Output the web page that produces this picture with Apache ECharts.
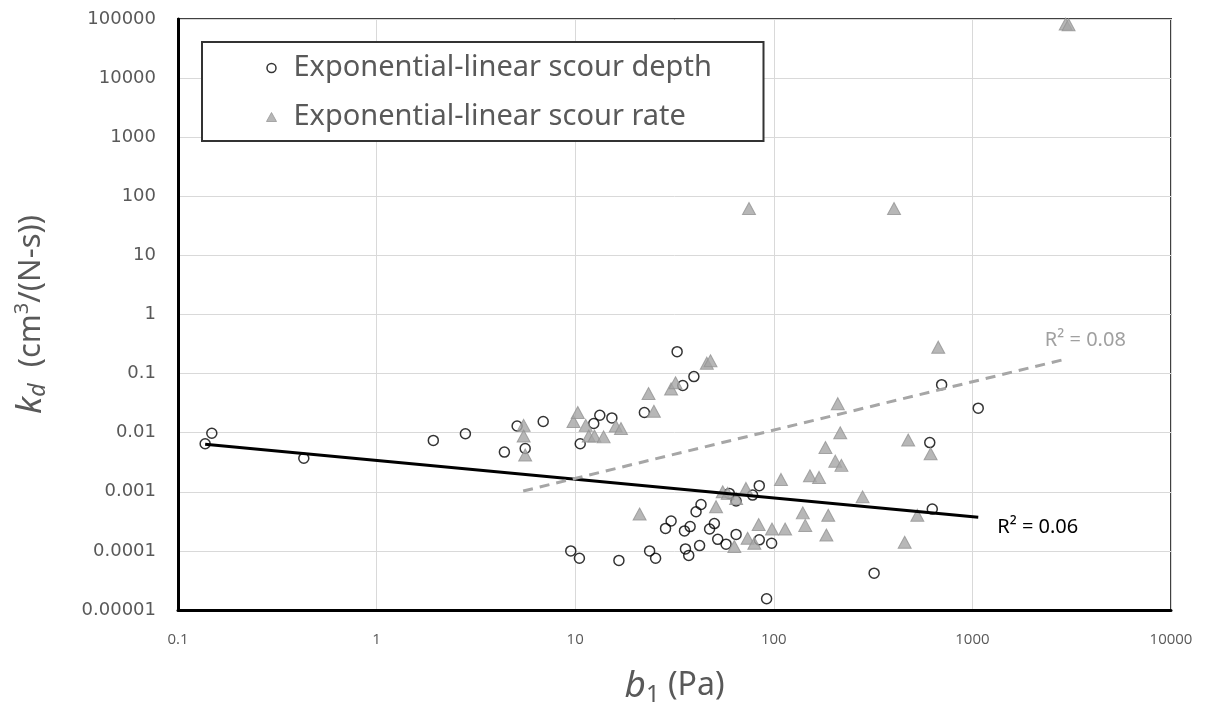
<!DOCTYPE html>
<html>
<head>
<meta charset="utf-8">
<script src="https://cdn.jsdelivr.net/npm/echarts@6/dist/echarts.min.js"></script>
<style>
html,body{margin:0;padding:0;background:#fff;}
#chart{width:1208px;height:712px;}
</style>
</head>
<body>
<div id="chart"></div>
<script>
const seriesNames = ['Exponential-linear scour depth', 'Exponential-linear scour rate'];

const xTickLabels = ['0.1', '1', '10', '100', '1000', '10000'];
const yTickLabels = ['0.00001', '0.0001', '0.001', '0.01', '0.1', '1', '10', '100', '1000', '10000', '100000'];

// [b1 (Pa), kd]
const depthData = [
  [0.137, 0.0065], [0.148, 0.0098], [0.43, 0.0037], [1.93, 0.0074], [2.8, 0.0096],
  [4.4, 0.0047], [5.1, 0.013], [5.6, 0.0054], [6.9, 0.0155], [9.5, 0.0001],
  [10.5, 0.000075], [10.6, 0.0065], [12.4, 0.0143], [13.3, 0.0197], [15.3, 0.0178],
  [16.6, 0.000069], [22.3, 0.022], [23.7, 0.0001], [25.4, 0.000075], [28.5, 0.00024],
  [30.4, 0.00032], [32.6, 0.235], [34.8, 0.063], [35.5, 0.000218], [35.9, 0.000108],
  [37.3, 0.000084], [37.9, 0.000258], [39.6, 0.089], [40.6, 0.00046], [42.3, 0.000123],
  [43.0, 0.00061], [47.5, 0.000235], [50.2, 0.00029], [52.2, 0.000157], [57.5, 0.00013],
  [59.7, 0.00094], [64.6, 0.00019], [64.6, 0.0007], [78.2, 0.00088], [84.5, 0.00127],
  [84.5, 0.000154], [92, 0.0000155], [97.5, 0.000135], [320, 0.000042], [610, 0.0068],
  [628, 0.00051], [700, 0.065], [1070, 0.026]
];

const rateData = [
  [5.5, 0.0133], [5.5, 0.0088], [5.6, 0.0042], [9.8, 0.0155], [10.3, 0.022],
  [11.3, 0.0133], [11.7, 0.0088], [12.5, 0.0088], [13.9, 0.0085], [16.0, 0.013],
  [17.0, 0.0118], [21.1, 0.00042], [23.4, 0.046], [24.9, 0.023], [30.4, 0.055],
  [32.0, 0.07], [46.0, 0.15], [48.0, 0.165], [51.2, 0.00056], [55.3, 0.001],
  [58.6, 0.00094], [63.3, 0.000119], [64.6, 0.00077], [72.4, 0.00114], [73.8, 0.000164],
  [75, 62], [79.8, 0.000135], [83.9, 0.00028], [97.9, 0.000235], [108.7, 0.00162],
  [114, 0.000235], [140, 0.00044], [144, 0.00027], [152, 0.00187], [169, 0.00175],
  [182, 0.0056], [184, 0.000186], [188, 0.0004], [204, 0.0033], [210, 0.031],
  [216, 0.01], [219, 0.0028], [280, 0.00082], [403, 62], [456, 0.00014],
  [475, 0.0075], [528, 0.0004], [616, 0.0044], [673, 0.28], [2950, 82000], [3050, 80000]
];

// power trendlines (endpoints)
const depthTrend = [[0.137, 0.0064], [1070, 0.00037]];
const rateTrend = [[5.47, 0.00103], [2990, 0.178]];
const depthR2 = 'R² = 0.06';
const rateR2 = 'R² = 0.08';

const chart = echarts.init(document.getElementById('chart'), null, {renderer: 'canvas'});
const gray = '#595959';

chart.setOption({
  animation: false,
  backgroundColor: '#fff',
  grid: {
    left: 178, right: 37, top: 19, bottom: 100,
    show: true, borderColor: '#404040', borderWidth: 2
  },
  legend: {
    orient: 'vertical', left: 202, top: 42,
    padding: [11, 50, 9, 64], itemGap: 19, itemWidth: 10, itemHeight: 9,
    borderColor: '#333', borderWidth: 2, backgroundColor: '#fff',
    selectedMode: false,
    textStyle: {fontFamily: 'Noto Sans', fontSize: 29, color: gray, lineHeight: 30, width: 420, padding: [0, 0, 0, 12]},
    data: [
      {name: seriesNames[0], icon: 'circle', itemStyle: {color: 'rgba(0,0,0,0)', borderColor: '#000', borderWidth: 1.5}},
      {name: seriesNames[1], icon: 'triangle', itemStyle: {color: '#a5a5a5', borderColor: '#999', borderWidth: 1}}
    ]
  },
  xAxis: {
    type: 'log', logBase: 10, min: 0.1, max: 10000, interval: 1,
    axisLine: {show: true, onZero: false, lineStyle: {color: '#000', width: 3}},
    axisTick: {show: false},
    minorTick: {show: false},
    splitLine: {show: true, lineStyle: {color: '#d9d9d9', width: 1}},
    axisLabel: {
      margin: 22, color: gray, fontFamily: 'Open Sans', fontSize: 15,
      formatter: v => xTickLabels[Math.round(Math.log10(v)) + 1]
    },
    name: '{b|b}{s|1}{t| (Pa)}',
    nameLocation: 'middle', nameGap: 55,
    nameTextStyle: {
      color: gray,
      rich: {
        b: {fontFamily: 'Noto Sans', fontSize: 37, fontStyle: 'italic', color: gray, lineHeight: 42},
        s: {fontFamily: 'Noto Sans', fontSize: 24, color: gray, lineHeight: 24, verticalAlign: 'bottom'},
        t: {fontFamily: 'Noto Sans', fontSize: 32, color: gray, lineHeight: 42}
      }
    }
  },
  yAxis: {
    type: 'log', logBase: 10, min: 0.00001, max: 100000, interval: 1,
    axisLine: {show: true, onZero: false, lineStyle: {color: '#000', width: 3}},
    axisTick: {show: false},
    minorTick: {show: false},
    splitLine: {show: true, lineStyle: {color: '#d9d9d9', width: 1}},
    axisLabel: {
      margin: 22, color: gray, fontFamily: 'DejaVu Sans', fontSize: 18,
      formatter: v => yTickLabels[Math.round(Math.log10(v)) + 5]
    },
    name: '{k|k}{d|d}{t|  (cm}{s|3}{t|/(N-s))}',
    nameLocation: 'middle', nameGap: 128, nameRotate: 90,
    nameTextStyle: {
      color: gray,
      rich: {
        k: {fontFamily: 'Noto Sans', fontSize: 35, fontStyle: 'italic', color: gray, lineHeight: 38},
        d: {fontFamily: 'Noto Sans', fontSize: 23, fontStyle: 'italic', color: gray, lineHeight: 22, verticalAlign: 'bottom'},
        t: {fontFamily: 'Noto Sans', fontSize: 31, color: gray, lineHeight: 38},
        s: {fontFamily: 'Noto Sans', fontSize: 20, color: gray, lineHeight: 19, verticalAlign: 'top'}
      }
    }
  },
  series: [
    {
      name: seriesNames[0], type: 'scatter', data: depthData,
      symbol: 'circle', symbolSize: 10, z: 3,
      itemStyle: {color: 'rgba(0,0,0,0)', borderColor: '#000', borderWidth: 1.5}
    },
    {
      name: seriesNames[1], type: 'scatter', data: rateData,
      symbol: 'triangle', symbolSize: [13, 12], z: 4,
      itemStyle: {color: '#a5a5a5', borderColor: '#939393', borderWidth: 1}
    },
    {
      name: 'depthTrend', type: 'line', data: depthTrend, z: 5,
      showSymbol: false, symbol: 'none', silent: true,
      lineStyle: {color: '#000', width: 3},
      endLabel: {
        show: true, formatter: depthR2, distance: 19, offset: [0, 10],
        color: '#000', fontFamily: 'Noto Sans', fontSize: 20
      }
    },
    {
      name: 'rateTrend', type: 'line', data: rateTrend, z: 5,
      showSymbol: false, symbol: 'none', silent: true,
      lineStyle: {color: '#a6a6a6', width: 3, type: [10, 7]},
      endLabel: {
        show: true, formatter: rateR2, distance: 0, offset: [-22, -19],
        color: '#a0a0a0', fontFamily: 'Noto Sans', fontSize: 20
      }
    }
  ]
});
</script>
</body>
</html>
